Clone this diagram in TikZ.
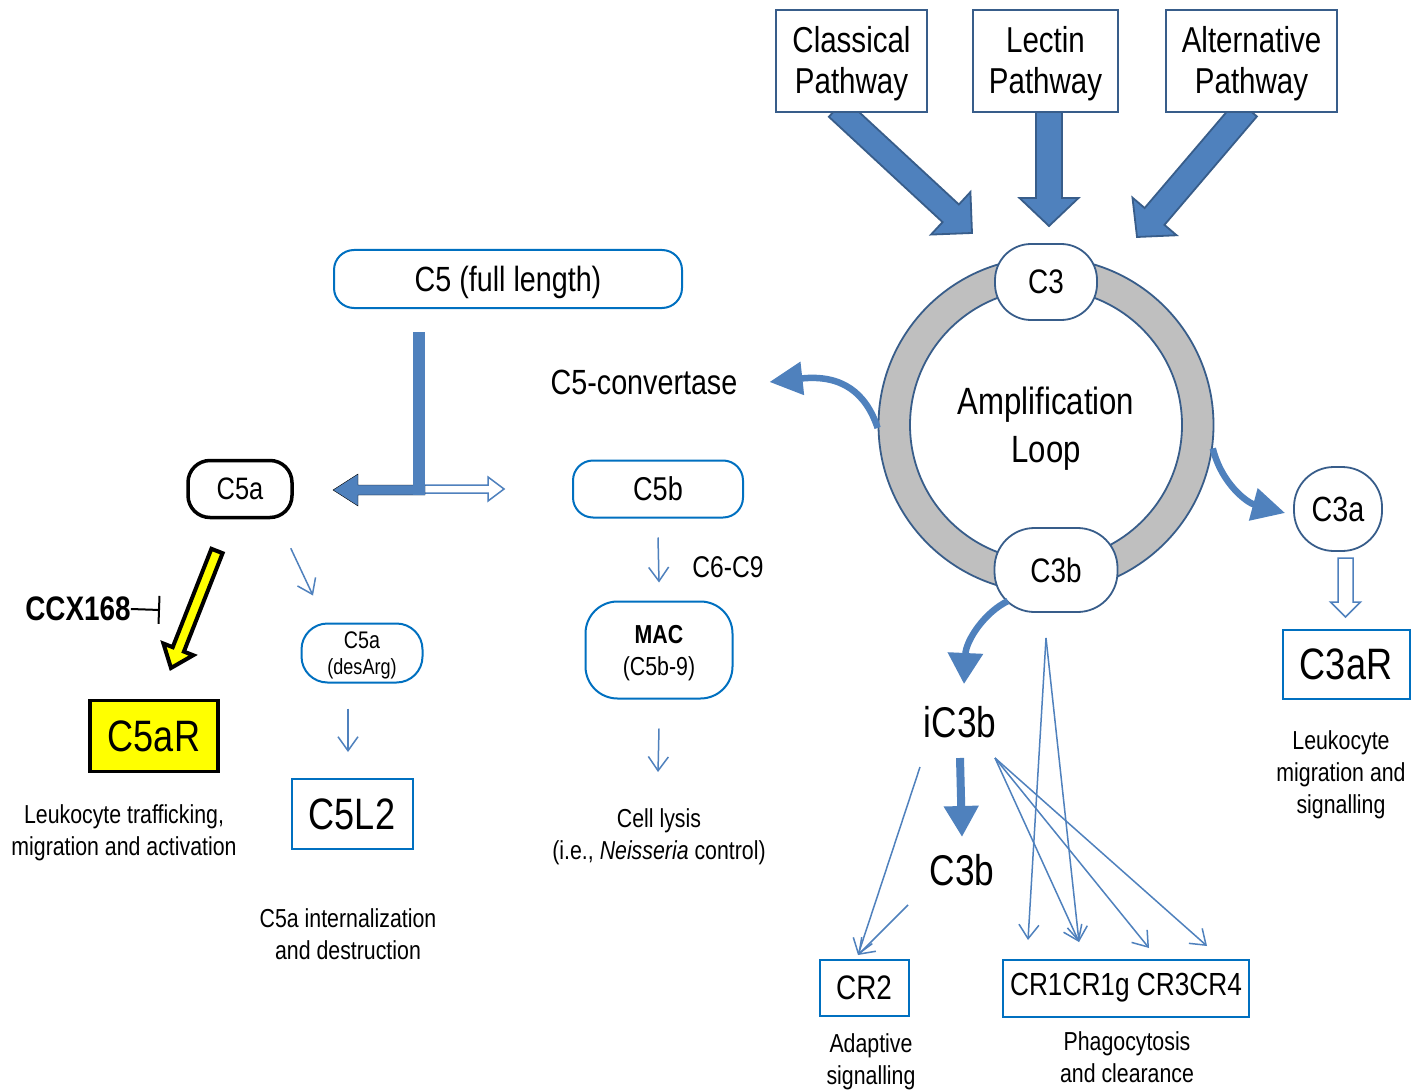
\documentclass[tikz,border=0pt]{standalone}
\usepackage{fontspec}
\setmainfont[FakeStretch=0.82]{Liberation Sans}
\usetikzlibrary{arrows.meta,calc}
\definecolor{arrowblue}{RGB}{79,129,189}
\definecolor{darkblue}{RGB}{56,93,138}
\definecolor{boxblue}{RGB}{0,112,192}
\definecolor{ringgray}{RGB}{191,191,191}
\definecolor{hiyellow}{RGB}{255,255,0}
\newcommand\fz[2]{\fontsize{#1}{#2}\selectfont}
% #1 style, #2 start coord, #3 tip coord, #4 shaft half width, #5 head half width, #6 head length
\newcommand\blockarrow[6]{%
  \coordinate (bahead) at ($(#3)!#6!(#2)$);
  \draw[#1] ($(#2)!#4!90:(#3)$) -- ($(bahead)!#4!90:(#3)$) -- ($(bahead)!#5!90:(#3)$)
    -- (#3) -- ($(bahead)!#5!-90:(#3)$) -- ($(bahead)!#4!-90:(#3)$) -- ($(#2)!#4!-90:(#3)$) -- cycle;}
\tikzset{
  topbox/.style={draw=darkblue, line width=1.8pt, fill=white, inner sep=0pt},
  bbox/.style={draw=boxblue, line width=2pt, fill=white, align=center, inner sep=0pt},
  loopnode/.style={draw=darkblue, line width=1.8pt, fill=white, inner sep=0pt, align=center},
  txt/.style={align=center, inner sep=0pt},
  thinarr/.style={draw=arrowblue, line width=1.5pt, -{Straight Barb[length=14pt,width=20pt]}},
  curvy/.style={draw=arrowblue, line width=6.5pt, -{Triangle[length=33pt,width=32pt]}},
  blockblue/.style={fill=arrowblue, draw=darkblue, line width=1.8pt, line join=miter},
  hollow/.style={fill=white, draw=arrowblue, line width=1.5pt, line join=miter},
  yellowarr/.style={fill=hiyellow, draw=black, line width=4pt, line join=miter},
}
\begin{document}
\begin{tikzpicture}[x=1pt,y=-1pt, font=\fz{26}{32}]
\useasboundingbox[fill=white] (0,0) rectangle (1423,1091);

% ---- pathway block arrows
\coordinate (cpA) at (837,108); \coordinate (cpT) at (972,233);
\coordinate (lpA) at (1049,108); \coordinate (lpT) at (1049,226);
\coordinate (apA) at (1247,108); \coordinate (apT) at (1137,237);
\blockarrow{blockblue}{cpA}{cpT}{12pt}{29pt}{29pt}
\blockarrow{blockblue}{lpA}{lpT}{13pt}{29.5pt}{28pt}
\blockarrow{blockblue}{apA}{apT}{13pt}{29pt}{27pt}

% ---- pathway boxes
\node[topbox, minimum width=151, minimum height=102] (cp) at (851.5,61) {};
\node[topbox, minimum width=145, minimum height=102] (lp) at (1045.5,61) {};
\node[topbox, minimum width=171, minimum height=102] (ap) at (1251.5,61) {};
\node[txt, font=\fz{36}{41}] (cptxt) at ($(cp.center)+(0,3)$) {Classical\\Pathway};
\node[txt, font=\fz{36}{41}] (lptxt) at ($(lp.center)+(0,3)$) {Lectin\\Pathway};
\node[txt, font=\fz{36}{41}] (aptxt) at ($(ap.center)+(0,3)$) {Alternative\\Pathway};

% ---- ring
\node[circle, draw=darkblue, line width=1.8pt, fill=ringgray, minimum size=335, inner sep=0pt] (ring) at (1046,425) {};
\node[circle, loopnode, minimum size=272] (loop) at (1046,425) {};
\node[txt, font=\fz{38}{48}] (looptxt) at ($(loop.center)+(0,4)$) {Amplification\\Loop};
\node[loopnode, minimum width=102, minimum height=76, rounded corners=36pt, font=\fz{34}{40}] (c3) at (1046,282) {C3};
\node[loopnode, minimum width=123, minimum height=84, rounded corners=40pt, font=\fz{34}{40}] (c3bn) at (1056,570) {C3b};
\node[loopnode, minimum width=88, minimum height=84, rounded corners=40pt, font=\fz{35}{40}] (c3a) at (1338,509) {C3a};

% ---- C5 split
\node[bbox, minimum width=348, minimum height=58, rounded corners=20pt] (c5) at (508,279) {};
\node[txt, font=\fz{35}{40}] (c5txt) at ($(c5.center)+(0,3)$) {C5 (full length)};
\node[txt, font=\fz{35}{40}] (conv) at (644,382) {C5-convertase};
\coordinate (hA) at (420,489); \coordinate (hT) at (504,489);
\blockarrow{hollow}{hA}{hT}{4pt}{12pt}{16pt}
\coordinate (split) at (425,490); \coordinate (c5aT) at (333,490);
\blockarrow{fill=arrowblue}{split}{c5aT}{5pt}{16pt}{25pt}
\coordinate (barTop) at (419,332);
\fill[arrowblue] ($(barTop)+(-6,0)$) rectangle ($(split)+(0,5)$);

\node[draw=black, line width=3.5pt, fill=white, rounded corners=22pt, minimum width=104, minimum height=57, inner sep=0pt, font=\fz{31}{36}] (c5a) at (240,489) {C5a};
\node[bbox, minimum width=170, minimum height=57, rounded corners=20pt, font=\fz{33}{38}] (c5b) at (658,489) {C5b};

% ---- C5b branch
\node[txt, font=\fz{30}{36}] (c6c9) at (728,567) {C6-C9};
\node[bbox, minimum width=147, minimum height=97, rounded corners=32pt] (mac) at (659,650) {};
\node[txt, font=\fz{26}{32}] (mactxt) at ($(mac.center)+(0,3)$) {\textbf{MAC}\\(C5b-9)};
\draw[thinarr] ($(c5b.south)+(0,19)$) -- ($(mac.north)+(0,-18)$);
\coordinate (lysisArr) at (658,772);
\draw[thinarr] ($(mac.south)+(0,29)$) -- (lysisArr);
\node[txt] (lysis) at (659,837) {Cell lysis\\(i.e., \textit{Neisseria} control)};

% ---- C5a branch
\coordinate (yA) at (217,551); \coordinate (yT) at (171,668);
\blockarrow{yellowarr}{yA}{yT}{6pt}{16pt}{20pt}
\node[txt, font=\bfseries\fz{34}{40}] (ccx) at (78,609) {CCX168};
\coordinate (ccxBar) at (160,610);
\draw[line width=2pt, -{Bar[width=28pt]}] (ccx.east) -- (ccxBar);
\node[draw=black, line width=3.5pt, fill=hiyellow, minimum width=128, minimum height=71, inner sep=0pt, font=\fz{44}{50}] (c5ar) at (154,736) {C5aR};
\node[txt] (c5artxt) at (124,833) {Leukocyte trafficking,\\migration and activation};

\node[bbox, minimum width=121, minimum height=59, rounded corners=26pt] (desarg) at (362,653) {};
\node[txt, font=\fz{22}{26}] (desargtxt) at ($(desarg.center)+(0,2)$) {{\fz{24}{26}C5a}\\(desArg)};
\draw[thinarr] ($(c5a.south east)+(-3,29)$) -- ($(desarg.north)+(-49,-27)$);
\node[bbox, minimum width=121, minimum height=70, font=\fz{44}{50}] (c5l2) at (352,814) {C5L2};
\draw[thinarr] ($(desarg.south)+(-14,25)$) -- ($(c5l2.north)+(-4,-26)$);
\node[txt] (c5l2txt) at (348,934) {C5a internalization\\and destruction};

% ---- curved arrows from ring
\draw[curvy] (ring.181) .. controls (866,393) and (842,374) .. ($(conv.east)+(32,0)$);
\draw[curvy] (ring.-8) .. controls (1222,485) and (1248,503) .. ($(c3a.west)+(-8,4)$);
\draw[draw=arrowblue, line width=6.5pt, -{Triangle[length=31pt,width=34pt]}] ($(c3bn.center)+(-48,31)$) .. controls (985,612) and (966,640) .. (964,684);

% ---- iC3b / C3b
\node[txt, font=\fz{43}{48}] (ic3b) at (960,722) {iC3b};
\node[txt, font=\fz{43}{48}] (c3blow) at (962,870) {C3b};
\draw[draw=arrowblue, line width=8pt, -{Triangle[length=31pt,width=33pt]}] ($(ic3b.south)+(0,20)$) -- ($(c3blow.north)+(0,-17)$);

\node[bbox, minimum width=89, minimum height=56, font=\fz{34}{40}] (cr2) at (864,988) {CR2};
\node[bbox, minimum width=246, minimum height=57, font=\fz{32}{40}] (cr1) at (1126,988) {CR1CR1g CR3CR4};
\node[txt] (adapt) at (871,1062) {Adaptive\\signalling};
\node[txt] (phago) at (1127,1057) {Phagocytosis\\and clearance};

\coordinate (icL) at (920,767); \coordinate (icR) at (995,758);
\coordinate (c3bL) at (908,905); \coordinate (c3bD) at (1046,638);
\coordinate (cr2T) at (858,955);
\coordinate (cr1a) at (1028,940); \coordinate (cr1b) at (1079,942);
\coordinate (cr1c) at (1149,948); \coordinate (cr1d) at (1207,946);
\draw[thinarr] (icL) -- (cr2T);
\draw[thinarr] (c3bL) -- (cr2T);
\draw[thinarr] (c3bD) -- (cr1a);
\draw[thinarr] (c3bD) -- (cr1b);
\draw[thinarr] (icR) -- (cr1b);
\draw[thinarr] (icR) -- (cr1c);
\draw[thinarr] (icR) -- (cr1d);

% ---- C3a branch
\coordinate (c3hA) at (1345.5,558); \coordinate (c3hT) at (1345.5,617);
\blockarrow{hollow}{c3hA}{c3hT}{7.5pt}{15pt}{15pt}
\node[bbox, minimum width=127, minimum height=69, font=\fz{44}{50}] (c3ar) at (1346,664) {C3aR};
\node[txt] (c3artxt) at (1341,775) {Leukocyte\\migration and\\signalling};
\end{tikzpicture}
\end{document}
